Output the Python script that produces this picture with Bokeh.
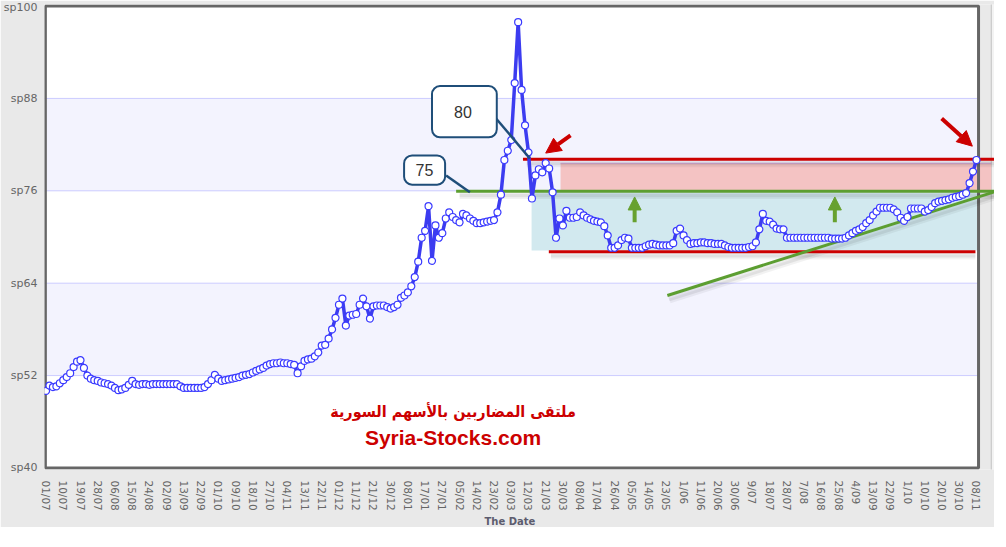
from bokeh.plotting import figure
from bokeh.models import (Range1d, FixedTicker, BoxAnnotation, Label, Arrow,
                          NormalHead, Title)
from bokeh.embed import file_html
from bokeh.resources import INLINE

# ---------------- data ----------------
dates = ["01/07", "10/07", "19/07", "28/07", "06/08", "15/08", "24/08", "02/09",
         "13/09", "22/09", "01/10", "09/10", "18/10", "27/10", "04/11", "13/11",
         "22/11", "01/12", "11/12", "21/12", "30/12", "08/01", "17/01", "27/01",
         "05/02", "14/02", "23/02", "03/03", "12/03", "21/03", "30/03", "08/04",
         "17/04", "26/04", "05/05", "14/05", "23/05", "1/06", "11/06", "20/06",
         "30/06", "9/07", "18/07", "28/07", "7/08", "16/08", "25/08", "4/09",
         "13/09", "22/09", "1/10", "10/10", "20/10", "30/10", "08/11"]

prices = [
    50.0, 50.7, 50.5, 50.6, 51.0, 51.4, 51.8, 52.3, 53.1, 53.8,
    54.0, 53.0, 52.0, 51.6, 51.4, 51.3, 51.1, 51.0, 50.9, 50.7,
    50.4, 50.1, 50.2, 50.4, 50.8, 51.3, 50.9, 50.8, 50.9, 50.9,
    50.8, 50.9, 50.9, 50.9, 50.9, 50.9, 50.9, 50.9, 50.9, 50.6,
    50.4, 50.4, 50.4, 50.4, 50.4, 50.4, 50.5, 50.9, 51.4, 52.1,
    51.6, 51.3, 51.4, 51.5, 51.6, 51.7, 51.8, 52.0, 52.1, 52.2,
    52.4, 52.6, 52.8, 53.0, 53.3, 53.5, 53.6, 53.6, 53.7, 53.6,
    53.6, 53.5, 53.4, 52.3, 53.2, 53.9, 54.1, 54.2, 54.5, 55.0,
    55.9, 56.0, 56.8, 58.0, 59.5, 61.2, 62.0, 58.5, 59.8, 59.9,
    60.0, 61.2, 62.0, 61.0, 59.4, 61.0, 61.1, 61.1, 61.1, 60.9,
    60.7, 60.9, 61.2, 62.1, 62.4, 62.8, 63.6, 64.8, 66.8, 69.9,
    70.8, 74.0, 66.9, 71.5, 69.9, 70.5, 72.4, 73.2, 72.6, 72.2,
    71.9, 73.0, 72.8, 72.4, 72.1, 71.8, 71.8, 71.9, 72.0, 72.1,
    72.2, 73.2, 75.5, 80.0, 81.2, 82.6, 90.0, 97.9, 89.1, 84.5,
    81.0, 75.0, 78.0, 78.8, 78.4, 79.6, 78.9, 75.8, 69.9, 72.4,
    71.5, 73.4, 72.5, 72.5, 72.6, 73.2, 72.8, 72.5, 72.3, 72.1,
    72.0, 71.9, 71.4, 70.2, 68.6, 68.6, 68.9, 69.6, 69.9, 69.8,
    68.6, 68.6, 68.6, 68.6, 68.8, 69.0, 69.1, 69.0, 68.9, 68.9,
    68.9, 68.9, 69.2, 70.8, 71.1, 70.2, 69.6, 69.1, 69.2, 69.2,
    69.3, 69.3, 69.2, 69.2, 69.1, 69.1, 69.1, 68.9, 68.7, 68.6,
    68.6, 68.6, 68.6, 68.6, 68.7, 68.8, 69.3, 71.0, 73.0, 72.1,
    72.0, 71.6, 71.1, 71.0, 71.0, 69.9, 69.9, 69.9, 69.9, 69.9,
    69.9, 69.9, 69.9, 69.9, 69.9, 69.9, 69.9, 69.9, 69.8, 69.8,
    69.8, 69.8, 69.9, 70.2, 70.5, 70.8, 71.0, 71.3, 71.8, 72.2,
    72.8, 73.3, 73.8, 73.8, 73.8, 73.8, 73.6, 73.2, 72.5, 72.1,
    72.6, 73.7, 73.7, 73.7, 73.7, 73.3, 73.5, 73.9, 74.4, 74.6,
    74.7, 74.8, 74.9, 75.1, 75.2, 75.3, 75.5, 75.7, 77.0, 78.5,
    80.0,
]

y_ticks = [40, 52, 64, 76, 88, 100]
y_labels = ["sp40", "sp52", "sp64", "sp76", "sp88", "sp100"]
points_per_label = 5

# annotation levels drawn on the chart
resistance = 80.1
support = 68.1
green_level = 75.95
pink_zone = (76.05, 79.57)
blue_zone = (68.24, 75.8)
trend = ([180.3, 279.0], [62.4, 76.4])
callout_80 = "80"
callout_75 = "75"
watermark_ar = "ملتقى المضاربين بالأسهم السورية"
watermark_en = "Syria-Stocks.com"

# ---------------- figure ----------------
x = list(range(len(prices)))
PX = 3.446
X0 = -0.45
X1 = X0 + 950 / PX
BORDER_L, BORDER_R = -0.2, 270.6
PAGE = "#e9e9e9"

p = figure(frame_width=950, frame_height=465,
           x_range=Range1d(X0, X1), y_range=Range1d(39.8, 100.2),
           output_backend="svg", toolbar_location=None,
           min_border_left=30, min_border_right=0, min_border_top=4,
           min_border_bottom=58)
p.background_fill_color = PAGE
p.border_fill_color = PAGE
p.outline_line_color = None
p.xgrid.grid_line_color = None
p.ygrid.grid_line_color = None

# plot area + bands
p.quad(left=X0, right=BORDER_R, bottom=40, top=100, fill_color="white", line_color=None)
p.quad(left=[X0, X0], right=[BORDER_R, BORDER_R], bottom=[52, 76], top=[64, 88],
       fill_color="#f3f3fe", line_color=None)
# right side strip
p.quad(left=274.3, right=X1 + 5, bottom=30, top=110, fill_color="#f3f3f3", line_color=None)
p.segment(x0=274.3, x1=274.3, y0=30, y1=110, line_color="#c4c4c4", line_width=1)
# grid lines
p.segment(x0=[X0] * 4, x1=[BORDER_R] * 4, y0=y_ticks[1:5], y1=y_ticks[1:5],
          line_color="#ccccff", line_width=1)

# zones
p.quad(left=149.3, right=274.3, bottom=pink_zone[0], top=pink_zone[1],
       fill_color="#f4c3c3", line_color=None)
p.segment(x0=149.3, x1=274.3, y0=pink_zone[1], y1=pink_zone[1], line_color="#d8a8d8", line_width=1)
p.quad(left=140.9, right=BORDER_R, bottom=blue_zone[0], top=blue_zone[1],
       fill_color="#d2e9ef", line_color=None)

# frame border
p.quad(left=BORDER_L, right=BORDER_R, bottom=40, top=100, fill_color=None,
       line_color="#666666", line_width=3)

# soft shadows of drawn lines
for off, alpha in [(0.45, 0.07), (0.7, 0.05)]:
    p.segment(x0=[139.5, 146.5, 120], x1=[280, 269.7, 280],
              y0=[resistance - off, support - off, green_level - off],
              y1=[resistance - off, support - off, green_level - off],
              line_color="black", line_alpha=alpha, line_width=5)
    p.line([trend[0][0] + off, trend[0][1] + off], [trend[1][0] - off, trend[1][1] - off],
           line_color="black", line_alpha=alpha, line_width=5)

# drawn lines
p.segment(x0=[138.4, 145.9], x1=[280, 269.7], y0=[resistance, support],
          y1=[resistance, support], line_color="#cc0000", line_width=3)
p.segment(x0=119, x1=280, y0=green_level, y1=green_level, line_color="#5c9e31", line_width=3)
p.line(trend[0], trend[1], line_color="#5c9e31", line_width=3)

# price series
p.line(x, prices, line_color="#3c3cf0", line_width=3.5)
p.scatter(x, prices, size=7, marker="circle", fill_color="white",
          line_color="#3a3aff", line_width=1.2)

# callout pointers
p.segment(x0=[116.1, 130.6], x1=[123.0, 140.4], y0=[78.0, 85.4], y1=[75.8, 80.2],
          line_color="#1f4e79", line_width=2.5)

# callout boxes
for (l, r, t, b) in [(112.0, 130.8, 89.6, 82.95), (103.9, 115.8, 80.6, 76.8)]:
    p.add_layout(BoxAnnotation(left=l, right=r, top=t, bottom=b, fill_color="white",
                               fill_alpha=1, line_color="#1f4e79", line_alpha=1,
                               line_width=2, border_radius=8, level="overlay"))
for (tx, ty, tt) in [(121.0, 86.3, callout_80), (109.8, 78.65, callout_75)]:
    p.add_layout(Label(x=tx, y=ty, text=tt, text_align="center", text_baseline="middle",
                       text_font="Liberation Sans", text_font_size="16px",
                       text_color="#333333", level="overlay"))

# arrows
for (xs, ys, xe, ye) in [(170.8, 71.9, 170.8, 75.2), (228.9, 71.9, 228.9, 75.2)]:
    p.add_layout(Arrow(end=NormalHead(size=13, fill_color="#67a12f", line_color="#67a12f"),
                       x_start=xs, y_start=ys, x_end=xe, y_end=ye,
                       line_color="#67a12f", line_width=4))
for (xs, ys, xe, ye) in [(152.2, 83.2, 145.0, 80.9), (259.9, 85.4, 268.8, 81.8)]:
    p.add_layout(Arrow(end=NormalHead(size=15, fill_color="#cc0000", line_color="#cc0000"),
                       x_start=xs, y_start=ys, x_end=xe, y_end=ye,
                       line_color="#cc0000", line_width=4))

# watermark
p.add_layout(Label(x=118.1, y=47.3, text=watermark_ar, text_align="center",
                   text_baseline="middle", text_font="DejaVu Sans Condensed",
                   text_font_style="bold", text_font_size="16px", text_color="#cc0000"))
p.add_layout(Label(x=118.1, y=43.9, text=watermark_en, text_align="center",
                   text_baseline="middle", text_font="Liberation Sans", text_font_style="bold",
                   text_font_size="21px", text_color="#cc0000"))

# axes
p.xaxis.ticker = FixedTicker(ticks=[i * points_per_label for i in range(len(dates))])
p.xaxis.major_label_overrides = {i * points_per_label: d for i, d in enumerate(dates)}
p.xaxis.major_label_orientation = "vertical"
p.xaxis.major_label_text_font = "DejaVu Sans"
p.xaxis.major_label_text_font_size = "10.5px"
p.xaxis.major_label_text_color = "#666666"
p.yaxis.ticker = FixedTicker(ticks=y_ticks)
p.yaxis.major_label_overrides = {t: s for t, s in zip(y_ticks, y_labels)}
p.yaxis.major_label_text_font = "DejaVu Sans"
p.yaxis.major_label_text_font_size = "11px"
p.yaxis.major_label_text_color = "#666666"
p.yaxis.major_label_standoff = 1
for ax in (p.xaxis, p.yaxis):
    ax.axis_line_color = None
    ax.major_tick_line_color = None
    ax.minor_tick_line_color = None

p.add_layout(Title(text="The Date", align="left", offset=440, text_font="DejaVu Sans",
                   text_font_size="10px", text_font_style="bold", text_color="#5c5c6e",
                   standoff=0),
             "below")

open("out.html", "w").write(file_html(p, INLINE))
